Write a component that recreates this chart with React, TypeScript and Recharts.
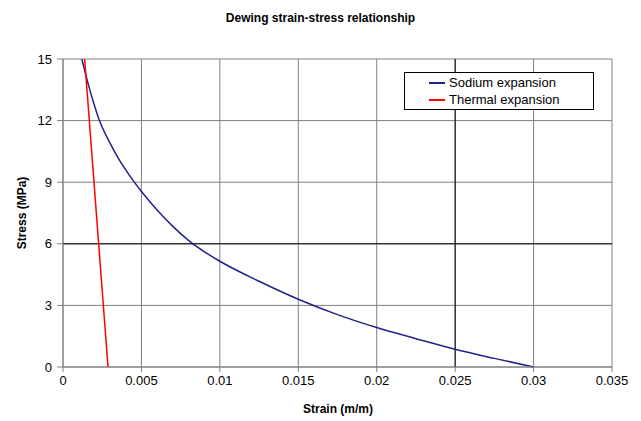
import React from "react";
import {
  LineChart, Line, XAxis, YAxis, CartesianGrid, ReferenceLine, Legend,
} from "recharts";

// Strain (m/m) / stress (MPa) pairs
const sodiumStrain = [0.0012, 0.0016, 0.002, 0.0023, 0.003, 0.0035, 0.004, 0.0045, 0.005, 0.006, 0.007, 0.008, 0.009, 0.01, 0.0126, 0.015, 0.0175, 0.02, 0.0225, 0.025, 0.0275, 0.03];
const sodiumStress = [15, 13.8, 12.75, 12.05, 10.9, 10.2, 9.6, 9.05, 8.55, 7.65, 6.85, 6.17, 5.62, 5.15, 4.14, 3.3, 2.55, 1.92, 1.38, 0.86, 0.42, 0];

const thermalStrain = [0.00138, 0.00287];
const thermalStress = [15, 0];

const xTicks = [0, 0.005, 0.01, 0.015, 0.02, 0.025, 0.03, 0.035];
const yTicks = [0, 3, 6, 9, 12, 15];

const sodiumData = sodiumStrain.map((x, i) => ({ x, y: sodiumStress[i] }));
const thermalData = thermalStrain.map((x, i) => ({ x, y: thermalStress[i] }));

const font = "'Liberation Sans', Arial, sans-serif";
const navy = "#22228a";

const LegendBox = () => (
  <div
    style={{
      border: "1px solid #000", background: "#fff", width: 190, height: 38,
      boxSizing: "border-box", fontFamily: font, fontSize: 13, color: "#000",
      padding: "1px 0 0 24px", lineHeight: "17px",
    }}
  >
    {[["Sodium expansion", navy], ["Thermal expansion", "#ff0000"]].map(([name, color]) => (
      <div key={name} style={{ display: "flex", alignItems: "center" }}>
        <span style={{ display: "inline-block", width: 16, height: 2, background: color, marginRight: 4 }} />
        {name}
      </div>
    ))}
  </div>
);

export default function App() {
  return (
    <div style={{ position: "absolute", left: 0, top: 0, width: 641, height: 421, background: "#fff", fontFamily: font }}>
      <div style={{ position: "absolute", top: 11, left: 0, width: 641, textAlign: "center", fontWeight: "bold", fontSize: 12 }}>
        Dewing strain-stress relationship
      </div>
      <LineChart width={641} height={421} margin={{ top: 59, right: 29, bottom: 23, left: 8 }}>
        <CartesianGrid stroke="#808080" />
        <XAxis
          type="number" dataKey="x" domain={[0, 0.035]} ticks={xTicks}
          stroke="#808080" tickSize={5} tickMargin={4} height={31}
          tick={{ fill: "#000", fontSize: 13, fontFamily: font }}
          allowDataOverflow
        />
        <YAxis
          type="number" dataKey="y" domain={[0, 15]} ticks={yTicks}
          stroke="#808080" tickSize={6} tickMargin={5} width={55}
          tick={{ fill: "#000", fontSize: 13, fontFamily: font }}
        />
        <ReferenceLine y={6} stroke="#000" />
        <ReferenceLine x={0.025} stroke="#000" />
        <Line data={sodiumData} dataKey="y" type="monotone" stroke={navy} strokeWidth={1.5} dot={false} isAnimationActive={false} />
        <Line data={thermalData} dataKey="y" type="linear" stroke="#ff0000" strokeWidth={1.5} dot={false} isAnimationActive={false} />
        <Legend
          layout="vertical" align="center" verticalAlign="middle"
          wrapperStyle={{ left: 404, top: 72, width: 190 }}
          content={() => <LegendBox />}
        />
      </LineChart>
      <div style={{ position: "absolute", top: 402, left: 263, width: 150, textAlign: "center", fontWeight: "bold", fontSize: 12 }}>
        Strain (m/m)
      </div>
      <div
        style={{
          position: "absolute", left: 22, top: 213, width: 120, textAlign: "center",
          fontWeight: "bold", fontSize: 12, transform: "translate(-50%, -50%) rotate(-90deg)",
        }}
      >
        Stress (MPa)
      </div>
    </div>
  );
}
